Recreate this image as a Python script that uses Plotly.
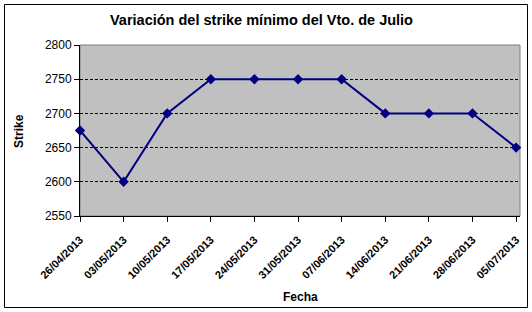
import plotly.graph_objects as go

fechas = ["26/04/2013", "03/05/2013", "10/05/2013", "17/05/2013", "24/05/2013",
          "31/05/2013", "07/06/2013", "14/06/2013", "21/06/2013", "28/06/2013", "05/07/2013"]
strike = [2675, 2600, 2700, 2750, 2750, 2750, 2750, 2700, 2700, 2700, 2650]
y_ticks = [2550, 2600, 2650, 2700, 2750, 2800]

idx = list(range(len(fechas)))

W, H = 532, 312
L, R, T, B = 80, 12, 45, 96
pw, ph = W - L - R, H - T - B
FONT = "Arial, Liberation Sans"

def px_x(x):
    return (x - L) / pw

def px_y(y):
    return (H - B - y) / ph

fig = go.Figure()
fig.add_trace(go.Scatter(
    x=idx, y=strike, mode="lines+markers",
    line=dict(color="#000080", width=2),
    marker=dict(symbol="diamond", size=8, color="#000080"),
    showlegend=False, cliponaxis=False,
))

fig.update_layout(
    width=W, height=H,
    margin=dict(l=L, r=R, t=T, b=B),
    paper_bgcolor="white",
    plot_bgcolor="#C0C0C0",
    font=dict(family=FONT, color="black"),
    xaxis=dict(
        range=[0, 10.09], tickmode="array", tickvals=idx,
        ticktext=["<b>%s</b>" % f for f in fechas],
        tickangle=-45, ticks="outside", ticklen=5, tickcolor="black",
        ticklabelstandoff=7,
        showgrid=False, zeroline=False, showline=True, linecolor="black", linewidth=1,
        tickfont=dict(size=11, family=FONT),
    ),
    yaxis=dict(
        range=[2550, 2800], tickmode="array", tickvals=y_ticks,
        ticks="outside", ticklen=5, tickcolor="black",
        showgrid=True, gridcolor="black", griddash="3px,2px", gridwidth=1,
        zeroline=False, showline=True, linecolor="black", linewidth=1,
        tickfont=dict(size=12, family=FONT),
    ),
    annotations=[
        dict(text="<b>Variación del strike mínimo del Vto. de Julio</b>",
             xref="paper", yref="paper", x=px_x(261), y=px_y(20),
             xanchor="center", yanchor="middle", showarrow=False,
             font=dict(size=14.5, family=FONT, color="black")),
        dict(text="<b>Fecha</b>",
             xref="paper", yref="paper", x=px_x(300), y=px_y(297),
             xanchor="center", yanchor="middle", showarrow=False,
             font=dict(size=12, family=FONT, color="black")),
        dict(text="<b>Strike</b>",
             xref="paper", yref="paper", x=px_x(19), y=px_y(131),
             xanchor="center", yanchor="middle", showarrow=False, textangle=-90,
             font=dict(size=12, family=FONT, color="black")),
    ],
    shapes=[
        dict(type="rect", xref="paper", yref="paper",
             x0=px_x(4.5), x1=px_x(527.5), y0=px_y(307.5), y1=px_y(4.5),
             line=dict(color="black", width=1), fillcolor="rgba(0,0,0,0)", layer="below"),
        dict(type="rect", xref="paper", yref="paper", x0=0, x1=1, y0=0, y1=1,
             line=dict(color="#808080", width=1), fillcolor="rgba(0,0,0,0)", layer="below"),
    ],
)

fig.write_html("out.html")
